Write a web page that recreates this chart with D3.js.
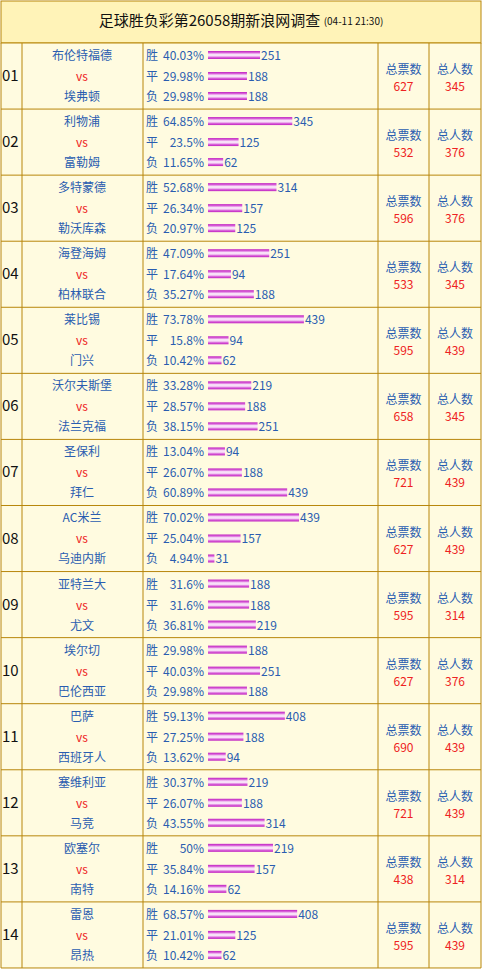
<!DOCTYPE html>
<html><head><meta charset="utf-8">
<script src="https://cdn.jsdelivr.net/npm/d3@7"></script>
<style>body{margin:0;background:#fff;}</style>
</head><body>
<svg id="c" width="483" height="971"></svg>
<script>
const homeTeams = ["布伦特福德","利物浦","多特蒙德","海登海姆","莱比锡","沃尔夫斯堡","圣保利","AC米兰","亚特兰大","埃尔切","巴萨","塞维利亚","欧塞尔","雷恩"];
const awayTeams = ["埃弗顿","富勒姆","勒沃库森","柏林联合","门兴","法兰克福","拜仁","乌迪内斯","尤文","巴伦西亚","西班牙人","马竞","南特","昂热"];
const winPct = ["40.03","64.85","52.68","47.09","73.78","33.28","13.04","70.02","31.6","29.98","59.13","30.37","50","68.57"];
const drawPct = ["29.98","23.5","26.34","17.64","15.8","28.57","26.07","25.04","31.6","40.03","27.25","26.07","35.84","21.01"];
const lossPct = ["29.98","11.65","20.97","35.27","10.42","38.15","60.89","4.94","36.81","29.98","13.62","43.55","14.16","10.42"];
const winVotes = [251,345,314,251,439,219,94,439,188,188,408,219,219,408];
const drawVotes = [188,125,157,94,94,188,188,157,188,251,188,188,157,125];
const lossVotes = [188,62,125,188,62,251,439,31,219,188,94,314,62,62];
const totalVotes = [627,532,596,533,595,658,721,627,595,627,690,721,438,595];
const totalPeople = [345,376,376,345,439,345,439,439,314,376,439,439,314,439];

const svg = d3.select("#c");
const font = "'Noto Sans CJK SC', 'Noto Sans', sans-serif";
const border = "#b8860b";
const headH = 43, rowH = 66.07, n = homeTeams.length;
const cols = [1, 22, 143, 378, 429, 481];
const y = d3.scaleLinear().domain([0, n]).range([headH, headH + rowH * n]);
const bw = d3.scaleLinear().domain([0, 100]).range([0, 130]);

const defs = svg.append("defs");
const g = defs.append("linearGradient").attr("id", "bar").attr("x1", 0).attr("x2", 0).attr("y1", 0).attr("y2", 1);
[["0%","#c020c0"],["20%","#d860d8"],["40%","#f8e0f8"],["60%","#f8e0f8"],["80%","#d860d8"],["100%","#c020c0"]]
  .forEach(s => g.append("stop").attr("offset", s[0]).attr("stop-color", s[1]));

svg.append("rect").attr("x", 1).attr("y", 1).attr("width", 480).attr("height", headH - 1)
  .attr("fill", "#fff3b8").attr("stroke", border);
const t = svg.append("text").attr("x", 241).attr("y", 22).attr("text-anchor", "middle")
  .attr("dominant-baseline", "middle").attr("font-family", font).attr("fill", "#111");
t.append("tspan").attr("font-size", 15).text("足球胜负彩第26058期新浪网调查 ");
t.append("tspan").attr("font-size", 10).text("(04-11 21:30)");

svg.append("rect").attr("x", 1).attr("y", headH).attr("width", 480).attr("height", y(n) - headH)
  .attr("fill", "#fffbe0");
cols.forEach(x => svg.append("line").attr("x1", x).attr("x2", x).attr("y1", headH).attr("y2", y(n))
  .attr("stroke", border));
d3.range(n + 1).forEach(i => svg.append("line").attr("x1", 1).attr("x2", 481).attr("y1", y(i)).attr("y2", y(i))
  .attr("stroke", border));

const rows = svg.selectAll("g.row").data(d3.range(n)).join("g").attr("class", "row")
  .attr("transform", i => `translate(0,${y(i)})`)
  .attr("font-family", font).attr("font-size", 12);

const mid = rowH / 2;
rows.append("text").attr("x", 2).attr("y", mid + 5).attr("font-size", 15).attr("fill", "#111")
  .text(i => String(i + 1).padStart(2, "0"));
rows.append("text").attr("x", 82).attr("y", 17).attr("text-anchor", "middle").attr("fill", "#2a5db0").text(i => homeTeams[i]);
rows.append("text").attr("x", 82).attr("y", 38).attr("text-anchor", "middle").attr("fill", "#ee2222").text("vs");
rows.append("text").attr("x", 82).attr("y", 58).attr("text-anchor", "middle").attr("fill", "#2a5db0").text(i => awayTeams[i]);

const lines = [["胜", winPct, winVotes, 17], ["平", drawPct, drawVotes, 38], ["负", lossPct, lossVotes, 58]];
lines.forEach(([lab, pct, votes, ty]) => {
  rows.append("text").attr("x", 146).attr("y", ty).attr("fill", "#2a5db0").text(lab);
  rows.append("text").attr("x", 204).attr("y", ty).attr("text-anchor", "end").attr("fill", "#2a5db0").text(i => pct[i] + "%");
  rows.append("rect").attr("x", 208).attr("y", ty - 9).attr("height", 8)
    .attr("width", i => bw(+pct[i])).attr("fill", "url(#bar)");
  rows.append("text").attr("x", i => 209 + bw(+pct[i])).attr("y", ty).attr("fill", "#2a5db0").text(i => votes[i]);
});

[[403.5, "总票数", totalVotes], [455, "总人数", totalPeople]].forEach(([cx, lab, vals]) => {
  rows.append("text").attr("x", cx).attr("y", mid - 2).attr("text-anchor", "middle").attr("fill", "#2a5db0").text(lab);
  rows.append("text").attr("x", cx).attr("y", mid + 15).attr("text-anchor", "middle").attr("fill", "#ee2222").text(i => vals[i]);
});
</script>
</body></html>
